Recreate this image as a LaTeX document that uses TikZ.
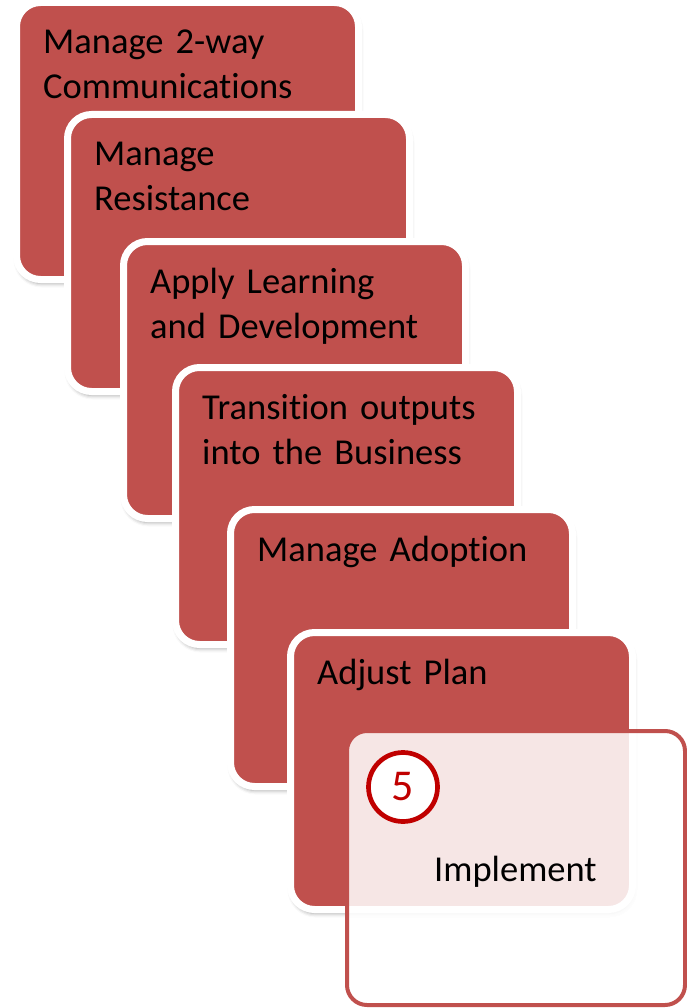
\documentclass[tikz,border=0pt]{standalone}
\usepackage{fontspec}
\setmainfont{Carlito}[Ligatures={CommonOff,ContextualOff,RareOff}]
\usetikzlibrary{shadows.blur}
\definecolor{cardred}{HTML}{C0504D}
\definecolor{numred}{HTML}{C00000}
\def\cardw{335}
\def\cardh{270}
\begin{document}
\begin{tikzpicture}[x=1pt,y=-1pt,
    card/.style={draw=white,line width=7pt,fill=cardred,rounded corners=24pt,
      minimum width=\cardw pt+7pt,minimum height=\cardh pt+7pt,
      anchor=north west,outer sep=0pt,inner sep=0pt,
      blur shadow={shadow xshift=1pt,shadow yshift=-4pt,shadow blur radius=4pt,shadow opacity=38}},
    txt/.style={anchor=base west,inner sep=0pt,text width=320pt,align=left,
      font=\fontsize{36.5}{45}\selectfont},
    impl/.style={draw=cardred,line width=4pt,fill=white,fill opacity=0.86,
      rounded corners=20pt,minimum width=338pt,minimum height=274pt,
      anchor=north west,outer sep=0pt,inner sep=0pt},
    numring/.style={circle,draw=numred,line width=4.7pt,fill=white,text=numred,
      minimum size=69pt,inner sep=0pt,font=\fontsize{44}{50}\selectfont}]

    \useasboundingbox (0,0) rectangle (687,1008);

    \foreach \n/\x/\y/\txt in {1/20/6/{Manage 2-way\\Communications},
      2/71/118/{Manage\\Resistance},3/127/245/{Apply Learning\\and Development},
      4/179/371/{Transition outputs\\into the Business},5/234/513/{Manage Adoption},
      6/294/636/{Adjust Plan}}{
      \node[card] (card\n) at (\x-3.5,\y-3.5) {};
      \node[txt] (label\n) at (\x+23,\y+48) {\txt};
    }

    \node[impl] (implement) at (347,731) {};
    \node[numring] (step5) at (403,787) {5};
    \node[txt] (impllabel) at (434,881) {Implement};
\end{tikzpicture}
\end{document}
